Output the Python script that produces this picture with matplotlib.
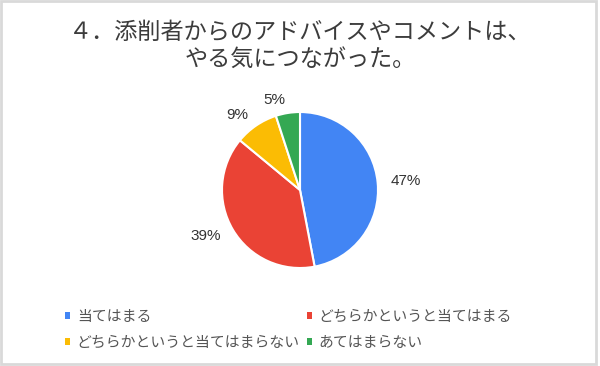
import matplotlib
matplotlib.use("Agg")
import matplotlib.pyplot as plt
from matplotlib.patches import Patch, Rectangle

plt.rcParams['font.family'] = ['Noto Sans CJK JP', 'DejaVu Sans']

categories = ["当てはまる", "どちらかというと当てはまる", "どちらかというと当てはまらない", "あてはまらない"]
values = [47, 39, 9, 5]
colors = ["#4285F4", "#EA4335", "#FBBC04", "#34A853"]
title_lines = ["４．添削者からのアドバイスやコメントは、", "やる気につながった。"]
pct_labels = [f"{v}%" for v in values]

fig = plt.figure(figsize=(6, 3.66), dpi=100)
fig.patch.set_facecolor("white")

# light frame around the picture
fig.patches.append(Rectangle((0.002, 0.006), 0.992, 0.99, transform=fig.transFigure,
                             fill=False, edgecolor="#d9d9d9", linewidth=2))

ax = fig.add_axes([0.24, 0.0546, 0.52, 0.8525])
wedges, texts = ax.pie(values, colors=colors, startangle=90, counterclock=False,
                       labels=pct_labels, labeldistance=1.17,
                       wedgeprops=dict(edgecolor="white", linewidth=1.5),
                       textprops=dict(fontsize=11, color="#333333",
                                      family=["Liberation Sans", "DejaVu Sans"]))
ax.set_xlim(-2, 2)
ax.set_ylim(-2, 2)
ax.set_aspect("equal")
ax.axis("off")

fig.text(0.5, 1 - 32 / 366, title_lines[0], ha="center", va="center", fontsize=16.7, color="#3c3c3c")
fig.text(0.5, 1 - 59 / 366, title_lines[1], ha="center", va="center", fontsize=16.7, color="#3c3c3c")

handles = [Patch(facecolor=c, edgecolor="none") for c in colors]
order = [0, 2, 1, 3]
leg = fig.legend([handles[i] for i in order], [categories[i] for i in order],
                 ncol=2, loc="upper left", bbox_to_anchor=(0.108, 1 - 310 / 366),
                 frameon=False, fontsize=10.7, handlelength=0.34, handleheight=0.34,
                 handletextpad=0.47, columnspacing=0.45, labelspacing=0.82,
                 borderaxespad=0, borderpad=0)
for t in leg.get_texts():
    t.set_color("#555555")

fig.savefig("out.png", dpi=100, facecolor="white")
